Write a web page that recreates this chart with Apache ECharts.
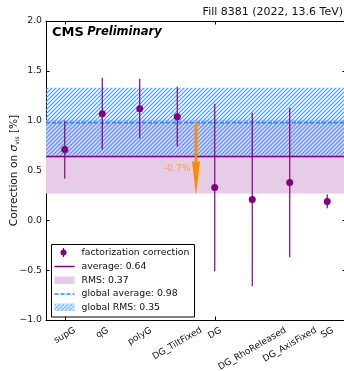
<!DOCTYPE html>
<html><head><meta charset="utf-8">
<script src="https://cdn.jsdelivr.net/npm/echarts@6/dist/echarts.min.js"></script>
<style>html,body{margin:0;padding:0;background:#fff}#c{width:344px;height:371px}</style>
</head><body><div id="c"></div>
<script>
// ---- data ----
const categories = ['supG','qG','polyG','DG_TiltFixed','DG','DG_RhoReleased','DG_AxisFixed','SG'];
const values = [0.71, 1.07, 1.12, 1.04, 0.33, 0.21, 0.38, 0.19];
const errors = [0.29, 0.36, 0.30, 0.30, 0.84, 0.87, 0.75, 0.07];
const average = 0.64;
const rms = 0.37;
const globalAverage = 0.98;
const globalRms = 0.35;
const arrowFrom = 0.98;
const arrowTo = 0.25;
const arrowBetween = [3, 4];
const arrowLabel = '-0.7%';
const yMin = -1, yMax = 2, yInterval = 0.5;
const titleText = 'Fill 8381 (2022, 13.6 TeV)';
const legendLabels = ['factorization correction', 'average: 0.64', 'RMS: 0.37', 'global average: 0.98', 'global RMS: 0.35'];

// ---- styles ----
const FONT = 'DejaVu Sans';
const PURPLE = '#800080';
const PINK = '#e6cce6';
const BLUE = '#1e90ff';
const HATCH = '#3d9bff';
const ORANGE = '#ff8c00';

function makeHatch(){
  const s = 8, c = document.createElement('canvas'); c.width = s; c.height = s;
  const g = c.getContext('2d'); g.strokeStyle = HATCH; g.lineWidth = 1.2;
  for (let k = 0; k <= 2*s; k += 4){ g.beginPath(); g.moveTo(k+2, -2); g.lineTo(k-s-2, s+2); g.stroke(); }
  return {image: c, repeat: 'repeat'};
}
const hatch = makeHatch();
const mctx = document.createElement('canvas').getContext('2d');
const LABEL_FS = 9.3;
const XLABEL_FS = 9;
mctx.font = XLABEL_FS + 'px "' + FONT + '"';

const chart = echarts.init(document.getElementById('c'), null, {renderer: 'canvas'});

function bandSeries(lo, hi, fill){
  return {type:'custom', silent:true, data:[[0, lo, hi]], encode:{x:0, y:[1,2]},
    renderItem:(params, api)=>{
      const cs = params.coordSys;
      const y1 = api.coord([0, api.value(1)])[1], y2 = api.coord([0, api.value(2)])[1];
      return {type:'rect', shape:{x:cs.x, y:Math.min(y1,y2), width:cs.width, height:Math.abs(y2-y1)}, style:{fill:fill}};
    }};
}
function hlineSeries(v, color, width, dash){
  return {type:'custom', silent:true, data:[[0, v]], encode:{x:0, y:1},
    renderItem:(params, api)=>{
      const cs = params.coordSys;
      const y = api.coord([0, api.value(1)])[1];
      return {type:'line', shape:{x1:cs.x, y1:y, x2:cs.x+cs.width, y2:y}, style:{stroke:color, lineWidth:width, lineDash:dash||null}};
    }};
}

const axisCommon = {
  axisLine:{show:true, onZero:false, lineStyle:{color:'#000', width:1}},
  axisTick:{show:true, inside:true, length:3.5, lineStyle:{color:'#000'}},
  splitLine:{show:false}
};

const option = {
  animation:false,
  textStyle:{fontFamily:FONT},
  grid:{left:46, top:21, right:-2, bottom:51, containLabel:false, outerBoundsMode:'none'},
  xAxis:[
    Object.assign({type:'category', data:categories, boundaryGap:true, position:'bottom', axisLabel:{show:false}}, axisCommon,
      {axisTick:{show:true, inside:true, alignWithLabel:true, length:3.5, lineStyle:{color:'#000'}}}),
    Object.assign({type:'category', data:categories, boundaryGap:true, position:'top', axisLabel:{show:false}}, axisCommon,
      {axisTick:{show:true, inside:true, alignWithLabel:true, length:3.5, lineStyle:{color:'#000'}}})
  ],
  yAxis:[
    Object.assign({type:'value', min:yMin, max:yMax, interval:yInterval, position:'left',
     axisLabel:{margin:4, fontSize:LABEL_FS, color:'#222', fontFamily:FONT, formatter:v=>v.toFixed(1).replace('-', '\u2212')},
     name:'Correction on {i|σ}{s|vis} [%]', nameLocation:'middle', nameGap:26, nameMoveOverlap:false,
     nameTextStyle:{fontSize:10.6, color:'#111', fontFamily:FONT,
       rich:{i:{fontSize:10.6, fontStyle:'italic', fontFamily:FONT, color:'#111'}, s:{fontSize:6, fontFamily:FONT, color:'#111', verticalAlign:'bottom', padding:[4,0,0,0]}}}}, axisCommon),
    Object.assign({type:'value', min:yMin, max:yMax, interval:yInterval, position:'right', axisLabel:{show:false}}, axisCommon)
  ],
  series:[
    bandSeries(average-rms, average+rms, PINK),
    bandSeries(globalAverage-globalRms, globalAverage+globalRms, hatch),
    hlineSeries(average, PURPLE, 1.5),
    hlineSeries(globalAverage, BLUE, 1.6, [4,2]),
    {type:'custom', silent:true, data:values.map((v,i)=>[i, v, v-errors[i], v+errors[i]]), encode:{x:0, y:[1,2,3]},
     renderItem:(params, api)=>{
       const p1 = api.coord([api.value(0), api.value(2)]), p2 = api.coord([api.value(0), api.value(3)]);
       return {type:'line', shape:{x1:p1[0], y1:p1[1], x2:p2[0], y2:p2[1]}, style:{stroke:PURPLE, lineWidth:1.2}};
     }},
    {type:'scatter', data:values.map((v,i)=>[i, v]), symbol:'circle', symbolSize:7, itemStyle:{color:PURPLE, opacity:1}, silent:true},
    {type:'custom', silent:true, data:[[arrowBetween[0], arrowFrom, arrowTo, arrowBetween[1]]], encode:{x:0, y:[1,2]},
     renderItem:(params, api)=>{
       const xa = api.coord([api.value(0), api.value(1)])[0], xb = api.coord([api.value(3), api.value(1)])[0];
       const x = (xa+xb)/2;
       const y1 = api.coord([api.value(0), api.value(1)])[1], y2 = api.coord([api.value(0), api.value(2)])[1];
       const headLen = 34, headW = 8, shaftW = 2.8;
       const yh = y2 - headLen;
       return {type:'group', children:[
         {type:'rect', shape:{x:x-shaftW/2, y:y1, width:shaftW, height:yh-y1}, style:{fill:ORANGE}},
         {type:'polygon', shape:{points:[[x-headW/2, yh],[x+headW/2, yh],[x, y2]]}, style:{fill:ORANGE}},
         {type:'text', x:x-5.5, y:yh+7, style:{text:arrowLabel, fill:'#f7a040', fontSize:LABEL_FS, fontFamily:FONT, align:'right', verticalAlign:'middle'}}
       ]};
     }},
    {type:'custom', silent:true, data:categories.map((c,i)=>[i, yMin]), encode:{x:0, y:1}, clip:false,
     renderItem:(params, api)=>{
       const i = api.value(0);
       const p = api.coord([i, api.value(1)]);
       const txt = categories[i];
       const L = mctx.measureText(txt).width, h = 8.5;
       const th = Math.PI/6;
       const bh = L*Math.sin(th) + h*Math.cos(th);
       return {type:'text', x:p[0], y:p[1] + 6 + bh/2, rotation:th,
         style:{text:txt, fill:'#111', fontSize:XLABEL_FS, fontFamily:FONT, align:'center', verticalAlign:'middle'}};
     }}
  ],
  graphic:[
    {type:'text', right:1, top:7, style:{text:titleText, fill:'#111', font:'11px "'+FONT+'"'}},
    {type:'text', left:52, top:26, style:{text:'{a|CMS} {b|Preliminary}', rich:{
      a:{font:'bold 13px "'+FONT+'"', fill:'#000'}, b:{font:'italic bold 11.5px "'+FONT+'"', fill:'#000'}}}},
    {type:'group', left:51, top:244, children:[
      {type:'rect', shape:{x:0, y:0, width:143, height:72.5}, style:{fill:'rgba(255,255,255,0.85)', stroke:'#000', lineWidth:1}},
      {type:'line', shape:{x1:12, y1:3.5, x2:12, y2:12.5}, style:{stroke:PURPLE, lineWidth:1.2}},
      {type:'circle', shape:{cx:12, cy:8, r:3}, style:{fill:PURPLE}},
      {type:'line', shape:{x1:3, y1:22, x2:23, y2:22}, style:{stroke:PURPLE, lineWidth:1.5}},
      {type:'rect', shape:{x:3, y:32, width:20, height:7.5}, style:{fill:PINK}},
      {type:'line', shape:{x1:3, y1:49.5, x2:23, y2:49.5}, style:{stroke:BLUE, lineWidth:1.6, lineDash:[4,2]}},
      {type:'rect', shape:{x:3, y:59, width:20, height:7.5}, style:{fill:hatch}},
      {type:'text', x:30, y:8, style:{text:legendLabels[0], fill:'#111', font:LABEL_FS+'px "'+FONT+'"', verticalAlign:'middle'}},
      {type:'text', x:30, y:22, style:{text:legendLabels[1], fill:'#111', font:LABEL_FS+'px "'+FONT+'"', verticalAlign:'middle'}},
      {type:'text', x:30, y:36, style:{text:legendLabels[2], fill:'#111', font:LABEL_FS+'px "'+FONT+'"', verticalAlign:'middle'}},
      {type:'text', x:30, y:49.5, style:{text:legendLabels[3], fill:'#111', font:LABEL_FS+'px "'+FONT+'"', verticalAlign:'middle'}},
      {type:'text', x:30, y:63, style:{text:legendLabels[4], fill:'#111', font:LABEL_FS+'px "'+FONT+'"', verticalAlign:'middle'}}
    ]}
  ]
};
chart.setOption(option);
</script></body></html>
